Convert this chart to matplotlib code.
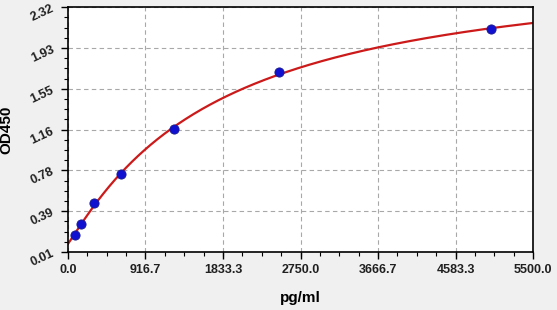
import numpy as np
import matplotlib
matplotlib.use('Agg')
import matplotlib.pyplot as plt
from matplotlib.ticker import AutoMinorLocator

# standard points
conc = [78.125, 156.25, 312.5, 625, 1250, 2500, 5000]
od = [0.17, 0.274, 0.472, 0.745, 1.17, 1.707, 2.113]

xticks = [0.0, 916.7, 1833.3, 2750.0, 3666.7, 4583.3, 5500.0]
xlabels = ['0.0', '916.7', '1833.3', '2750.0', '3666.7', '4583.3', '5500.0']
yticks = [0.01, 0.395, 0.78, 1.165, 1.55, 1.935, 2.32]
ylabels = ['0.01', '0.39', '0.78', '1.16', '1.55', '1.93', '2.32']


def f4pl(x, p):
    a, b, c, d = p
    return d + (a - d) / (1 + (x / c) ** b)


# simple Levenberg-Marquardt fit of 4PL
x = np.array(conc, float)
y = np.array(od, float)
p = np.array([0.07, 1.0, 2500.0, 3.0])
lam = 1e-3
for it in range(500):
    r = y - f4pl(x, p)
    J = np.zeros((len(x), 4))
    for k in range(4):
        dp = np.zeros(4)
        dp[k] = 1e-6 * max(abs(p[k]), 1e-3)
        J[:, k] = (f4pl(x, p + dp) - f4pl(x, p)) / dp[k]
    A = J.T @ J
    g = J.T @ r
    step = np.linalg.solve(A + lam * np.diag(np.diag(A)), g)
    pn = p + step
    if pn[2] > 0 and np.sum((y - f4pl(x, pn)) ** 2) < np.sum(r ** 2):
        p = pn
        lam *= 0.5
    else:
        lam *= 4

xs = np.linspace(0.001, 5500, 400)
ys = f4pl(xs, p)

plt.rcParams['font.family'] = ['Liberation Sans', 'DejaVu Sans']
fig = plt.figure(figsize=(5.57, 3.10), dpi=100, facecolor='#f0f0f0')
ax = fig.add_axes([0.122, 0.187, 0.835, 0.790])
ax.set_facecolor('white')

ax.plot(xs, ys, color='#cc1a1a', lw=1.6, zorder=2)
ax.scatter(conc, od, s=44, color='#1010d0', edgecolor='#1a1a90', lw=0.6, zorder=3)

ax.set_xlim(0, 5500)
ax.set_ylim(0.01, 2.32)
ax.set_xticks(xticks)
ax.set_xticklabels(xlabels, fontsize=9, fontweight='bold', color='#202020')
ax.set_yticks(yticks)
ax.set_yticklabels(ylabels, fontsize=9, fontweight='bold', rotation=25, color='#202020')
ax.xaxis.set_minor_locator(AutoMinorLocator(4))
ax.yaxis.set_minor_locator(AutoMinorLocator(4))
ax.tick_params(which='major', direction='out', length=5, width=1)
ax.tick_params(which='minor', direction='out', length=3, width=0.8)
ax.grid(True, which='major', ls=(0, (4, 3)), color='#a8a8a8', lw=0.8)
for s in ax.spines.values():
    s.set_linewidth(1.2)

ax.set_xlabel('pg/ml', fontsize=11, fontweight='bold', labelpad=11)
ax.set_ylabel('OD450', fontsize=11, fontweight='bold')
ax.yaxis.set_label_coords(-0.118, 0.5)

fig.savefig('out.png', dpi=100, facecolor=fig.get_facecolor())
